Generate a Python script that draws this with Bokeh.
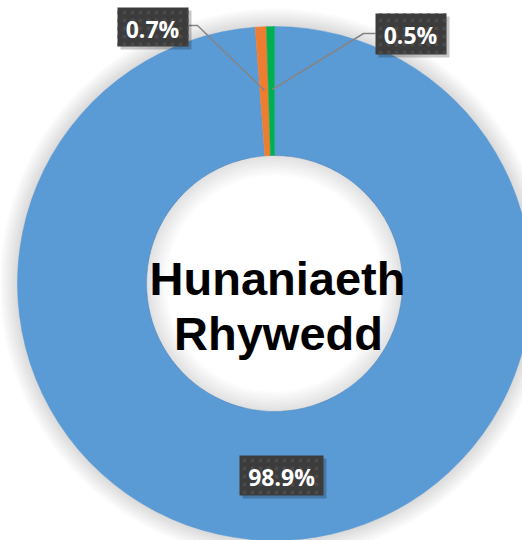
import math
from bokeh.plotting import figure
from bokeh.models import Range1d
from bokeh.core.properties import value
from bokeh.embed import file_html
from bokeh.resources import INLINE

# ---- data ----
categories = ["Yr un fath", "Gwahanol", "Gwell gennyf beidio dweud"]
values = [98.9, 0.7, 0.5]
colors = ["#5B9BD5", "#ED7D31", "#00B050"]
title_lines = ["Hunaniaeth", "Rhywedd"]

# ---- layout (image pixel coordinates) ----
W, H = 522, 540
def Y(y_img):
    return H - y_img

cx, cy = 274, Y(283)
R_out, R_in = 257, 128

p = figure(width=W, height=H, x_range=Range1d(0, W), y_range=Range1d(0, H),
           output_backend="svg", toolbar_location=None, min_border=0,
           x_axis_location=None, y_axis_location=None)
p.grid.visible = False
p.outline_line_color = None
p.background_fill_color = "white"
p.border_fill_color = "white"

# outer soft shadow
for k in range(1, 10):
    p.annular_wedge(x=cx, y=cy, inner_radius=R_out - 1, outer_radius=R_out + 2 * k,
                    start_angle=0, end_angle=2 * math.pi, fill_color="black",
                    fill_alpha=0.014, line_color=None)

# slices: clockwise from 12 o'clock
total = sum(values)
cum = 0.0
for v, c in zip(values, colors):
    f0 = cum / total
    cum += v
    f1 = cum / total
    start = math.pi / 2 - 2 * math.pi * f1
    end = math.pi / 2 - 2 * math.pi * f0
    p.annular_wedge(x=cx, y=cy, inner_radius=R_in, outer_radius=R_out,
                    start_angle=start, end_angle=end, fill_color=c,
                    line_color=c, line_width=0.5)

# inner shadow in the hole
for k in range(1, 11):
    p.annular_wedge(x=cx, y=cy, inner_radius=R_in - 2 * k, outer_radius=R_in + 0.5,
                    start_angle=0, end_angle=2 * math.pi, fill_color="black",
                    fill_alpha=0.012, line_color=None)

# centre title
p.text(x=[277, 278], y=[Y(278), Y(333)], text=title_lines,
       text_font=value("Liberation Sans"), text_font_style="bold",
       text_font_size="47px", text_color="black",
       text_align="center", text_baseline="alphabetic")

# leader lines
p.multi_line(xs=[[188, 197, 264], [375, 363, 272]],
             ys=[[Y(25), Y(25), Y(90)], [Y(33), Y(33), Y(89)]],
             line_color="#858585", line_width=1.5)

# label boxes (left, right, top, bottom) & text centres
boxes = [(239, 323, 455, 495), (117, 188, 7, 46), (375, 446, 13, 54)]
text_pos = [(281, 476), (152, 28), (410, 34)]
labels = [f"{v}%" for v in values]

for (l, r, t, b) in boxes:
    p.quad(left=l + 3, right=r + 3, top=Y(t + 3), bottom=Y(b + 3),
           fill_color="black", fill_alpha=0.22, line_color=None)
for (l, r, t, b) in boxes:
    p.quad(left=l, right=r, top=Y(t), bottom=Y(b), fill_color="#3C3C3C",
           line_color=None, hatch_pattern=".", hatch_color="#4A4A4A",
           hatch_scale=8, hatch_weight=1.5)

p.text(x=[tp[0] for tp in text_pos], y=[Y(tp[1]) for tp in text_pos], text=labels,
       text_font=value("Open Sans"), text_font_style="bold", text_font_size="23px",
       text_color="white", text_align="center", text_baseline="middle")

open("out.html", "w").write(file_html(p, INLINE))
